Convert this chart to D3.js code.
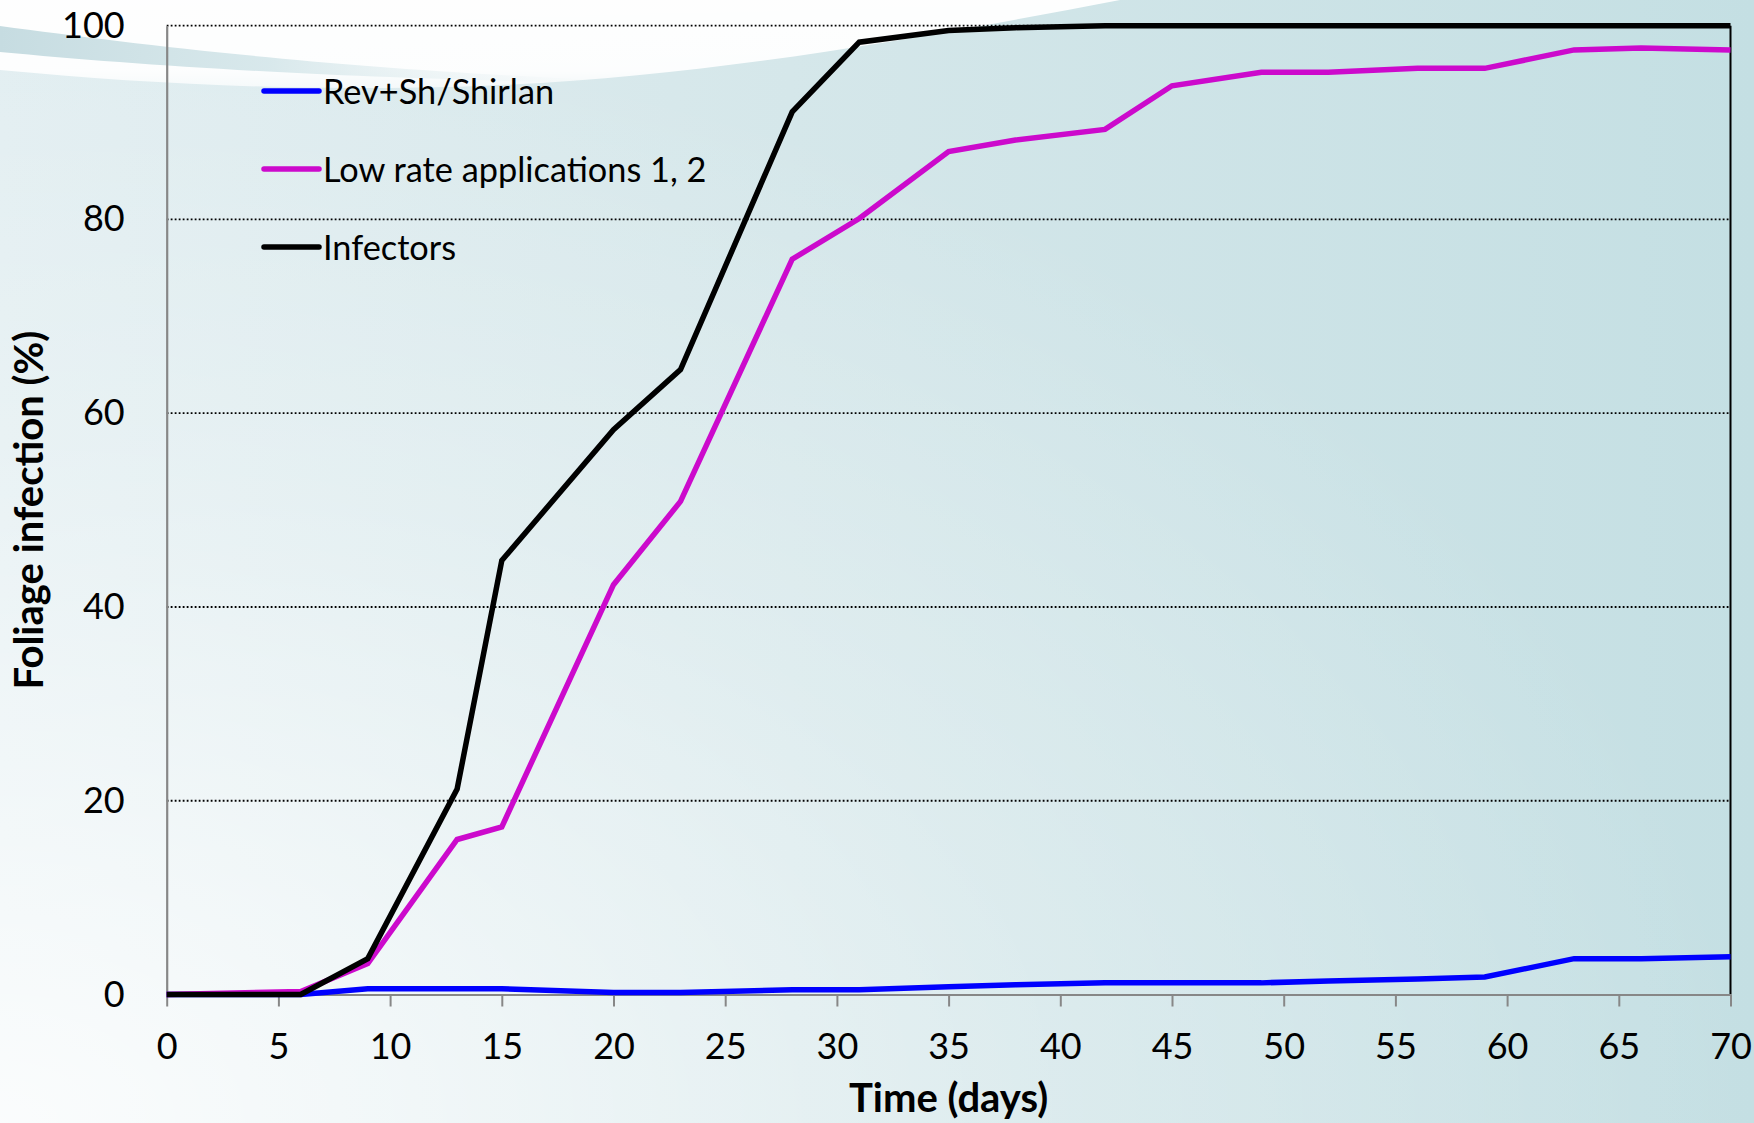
<!DOCTYPE html>
<html>
<head>
<meta charset="utf-8">
<script src="https://cdn.jsdelivr.net/npm/d3@7"></script>
<style>
  html, body { margin: 0; padding: 0; background: #fff; }
  svg { display: block; }
  text { font-family: Lato, "Open Sans", sans-serif; fill: #000; }
</style>
</head>
<body>
<svg id="chart" width="1754" height="1123"></svg>
<script>
// ---- data ----
const days = [0, 6, 9, 13, 15, 20, 23, 28, 31, 35, 38, 42, 45, 49, 52, 56, 59, 63, 66, 70];
const revShShirlan = [0, 0, 0.6, 0.6, 0.6, 0.2, 0.2, 0.5, 0.5, 0.8, 1.0, 1.2, 1.2, 1.2, 1.4, 1.6, 1.8, 3.7, 3.7, 3.9];
const lowRate = [0, 0.3, 3.2, 16.0, 17.3, 42.3, 50.9, 75.9, 80.1, 87.0, 88.2, 89.3, 93.8, 95.2, 95.2, 95.6, 95.6, 97.5, 97.7, 97.5];
const infectors = [0, 0, 3.7, 21.2, 44.8, 58.3, 64.5, 91.1, 98.3, 99.5, 99.8, 100, 100, 100, 100, 100, 100, 100, 100, 100];
const xTicks = [0, 5, 10, 15, 20, 25, 30, 35, 40, 45, 50, 55, 60, 65, 70];
const yTicks = [0, 20, 40, 60, 80, 100];
const seriesNames = ["Rev+Sh/Shirlan", "Low rate applications 1, 2", "Infectors"];
const seriesColors = ["#0000ff", "#cc0acc", "#000000"];
const xTitle = "Time (days)";
const yTitle = "Foliage infection (%)";

const W = 1754, H = 1123;
const svg = d3.select("#chart");
const defs = svg.append("defs");

// ---- background ----
const bg = defs.append("linearGradient").attr("id", "bg").attr("x1", 0).attr("x2", 1).attr("y1", 0).attr("y2", 0);
bg.append("stop").attr("offset", 0).attr("stop-color", "#e2eef1");
bg.append("stop").attr("offset", 0.45).attr("stop-color", "#d5e7ea");
bg.append("stop").attr("offset", 1).attr("stop-color", "#c4dfe3");
svg.append("rect").attr("width", W).attr("height", H).attr("fill", "url(#bg)");

const glow = defs.append("radialGradient").attr("id", "glow").attr("cx", 0).attr("cy", 1).attr("r", 1.0);
glow.append("stop").attr("offset", 0).attr("stop-color", "#ffffff").attr("stop-opacity", 0.85);
glow.append("stop").attr("offset", 0.6).attr("stop-color", "#ffffff").attr("stop-opacity", 0.25);
glow.append("stop").attr("offset", 1).attr("stop-color", "#ffffff").attr("stop-opacity", 0);
svg.append("rect").attr("width", W).attr("height", H).attr("fill", "url(#glow)");

// white swoosh at top
const sw = defs.append("linearGradient").attr("id", "sw").attr("x1", 0).attr("x2", 0).attr("y1", 0).attr("y2", 1);
sw.append("stop").attr("offset", 0).attr("stop-color", "#ffffff").attr("stop-opacity", 0.97);
sw.append("stop").attr("offset", 0.8).attr("stop-color", "#ffffff").attr("stop-opacity", 0.93);
sw.append("stop").attr("offset", 1).attr("stop-color", "#ffffff").attr("stop-opacity", 0.7);
svg.append("path")
  .attr("d", "M0,0 L0,70 C150,84 300,92 480,86 C700,77 900,42 1120,0 Z")
  .attr("fill", "url(#sw)");
// faint blue band inside swoosh
const bandG = defs.append("linearGradient").attr("id", "band").attr("x1", 0).attr("x2", 1).attr("y1", 0).attr("y2", 0);
bandG.append("stop").attr("offset", 0).attr("stop-color", "#c6dce1").attr("stop-opacity", 1);
bandG.append("stop").attr("offset", 0.45).attr("stop-color", "#cfe3e7").attr("stop-opacity", 0.8);
bandG.append("stop").attr("offset", 1).attr("stop-color", "#e6f0f2").attr("stop-opacity", 0);
svg.append("path")
  .attr("d", "M0,26 C150,46 330,68 600,80 L600,83 C330,78 150,66 0,52 Z")
  .attr("fill", "url(#band)");

// ---- scales ----
const m = { left: 166.7, right: 1730.5, top: 25.7, bottom: 994.5 };
const x = d3.scaleLinear().domain([0, 70]).range([m.left, m.right]);
const y = d3.scaleLinear().domain([0, 100]).range([m.bottom, m.top]);

// gridlines
svg.append("g").selectAll("line").data(yTicks.filter(d => d > 0)).join("line")
  .attr("x1", m.left).attr("x2", m.right)
  .attr("y1", d => y(d)).attr("y2", d => y(d))
  .attr("stroke", "#000").attr("stroke-width", 1.8).attr("stroke-dasharray", "1.8,2.2");

// right border
svg.append("line").attr("x1", m.right).attr("x2", m.right).attr("y1", m.top).attr("y2", m.bottom)
  .attr("stroke", "#000").attr("stroke-width", 2);

// x axis
const xAxis = svg.append("g").attr("transform", `translate(0,${m.bottom})`)
  .call(d3.axisBottom(x).tickValues(xTicks).tickSize(12).tickSizeOuter(0).tickPadding(27));
xAxis.select(".domain").attr("stroke", "#878787").attr("stroke-width", 2.2);
xAxis.selectAll(".tick line").attr("stroke", "#878787").attr("stroke-width", 2);
xAxis.selectAll(".tick text").attr("font-size", 36).attr("font-family", "Lato, sans-serif").attr("fill", "#000");

// y axis
const yAxis = svg.append("g").attr("transform", `translate(${m.left},0)`)
  .call(d3.axisLeft(y).tickValues(yTicks).tickSize(0).tickPadding(42));
yAxis.select(".domain").attr("stroke", "#878787").attr("stroke-width", 2.2);
yAxis.selectAll(".tick text").attr("font-size", 36).attr("font-family", "Lato, sans-serif").attr("fill", "#000");

// axis titles
svg.append("text").attr("x", x(35)).attr("y", 1097).attr("text-anchor", "middle")
  .attr("dominant-baseline", "central").attr("font-size", 40).attr("font-weight", "bold").text(xTitle);
svg.append("text").attr("transform", `translate(28,${(m.top + m.bottom) / 2}) rotate(-90)`)
  .attr("text-anchor", "middle").attr("dominant-baseline", "central")
  .attr("font-size", 40).attr("font-weight", "bold").text(yTitle);

// ---- lines ----
const allSeries = [revShShirlan, lowRate, infectors];
const line = d3.line().x((d, i) => x(days[i])).y(d => y(d));
svg.append("g").selectAll("path").data(allSeries).join("path")
  .attr("d", d => line(d))
  .attr("fill", "none")
  .attr("stroke", (d, i) => seriesColors[i])
  .attr("stroke-width", 5.5)
  .attr("stroke-linejoin", "miter");

// ---- legend ----
const legY = [91, 169, 247];
const leg = svg.append("g").selectAll("g").data(seriesNames).join("g")
  .attr("transform", (d, i) => `translate(264,${legY[i]})`);
leg.append("line").attr("x1", 0).attr("x2", 55).attr("y1", 0).attr("y2", 0)
  .attr("stroke", (d, i) => seriesColors[i]).attr("stroke-width", 5.5).attr("stroke-linecap", "round");
leg.append("text").attr("x", 59).attr("y", -1).attr("dominant-baseline", "central")
  .attr("font-size", 34.3).text(d => d);
</script>
</body>
</html>
